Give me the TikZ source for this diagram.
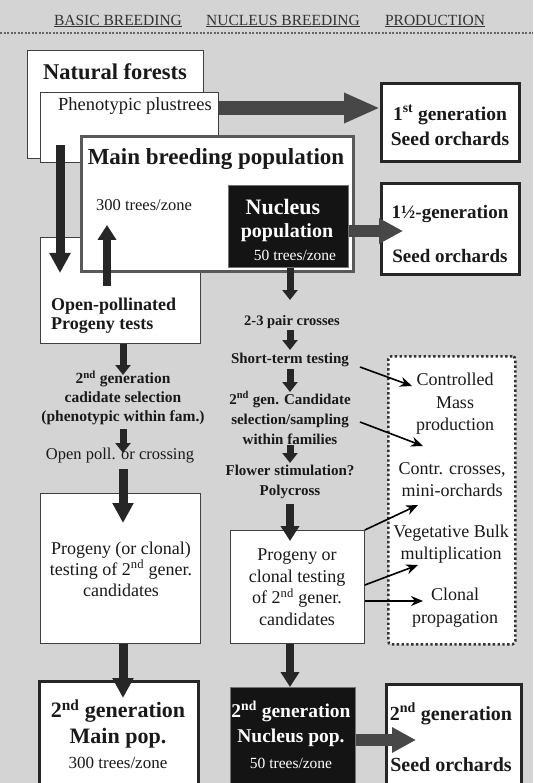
\documentclass[tikz,border=0pt]{standalone}
\usepackage{fontspec}
\setmainfont{Liberation Serif}
\usetikzlibrary{arrows.meta}
\newcommand\fz[2]{\fontsize{#1}{#2}\selectfont}
\tikzset{
  thinbox/.style={draw=black!75, line width=0.8pt, fill=white, inner sep=0pt, anchor=north west},
  thickbox/.style={draw=black!85, line width=3pt, fill=white, inner sep=0pt, anchor=north west},
  mainbox/.style={draw=black!65, line width=2.6pt, fill=white, inner sep=0pt, anchor=north west},
  blackbox/.style={draw=black!55, line width=1.2pt, fill=black!92, inner sep=0pt, anchor=north west},
  dotbox/.style={draw=black!80, line width=2.6pt, dash pattern=on 2.4pt off 2.4pt, fill=white, rounded corners=3pt, inner sep=0pt, anchor=north west},
  txt/.style={inner sep=0pt, align=center, text=black!90},
  wtxt/.style={inner sep=0pt, align=center, text=white},
  hdr/.style={inner sep=0pt, text=black!80, font=\fz{15.5}{17}},
  vbig/.style={draw=black!85, line width=9pt, -{Triangle[length=20pt,width=20pt]}},
  vbigs/.style={draw=black!85, line width=8pt, -{Triangle[length=15pt,width=18pt]}},
  vsmall/.style={draw=black!85, line width=7pt, -{Triangle[length=10pt,width=15pt]}},
  hbig/.style={draw=black!72, line width=14pt, -{Triangle[length=36pt,width=28pt]}},
  hmid/.style={draw=black!72, line width=12pt, -{Triangle[length=24pt,width=24pt]}},
  thin/.style={draw=black, line width=1.6pt, -{Stealth[length=12pt,width=10pt]}},
}
\begin{document}
\begin{tikzpicture}[x=1pt,y=-1pt]
\clip (0,0) rectangle (533,783);
\useasboundingbox (0,0) rectangle (533,783);
\fill[black!17] (0,0) rectangle (533,783);

% header
\node[hdr] (h1) at (118,21) {\underline{BASIC BREEDING}};
\node[hdr] (h2) at (283,21) {\underline{NUCLEUS BREEDING}};
\node[hdr] (h3) at (435,21) {\underline{PRODUCTION}};
\coordinate (dl) at (0,33);
\coordinate (dr) at (533,33);
\draw[black!60, line width=2.6pt, dash pattern=on 2pt off 1.5pt] (dl) -- (dr);

% boxes, back to front
\node[thinbox, minimum width=176pt, minimum height=108pt] (nf) at (27,50) {};
\node[thinbox, minimum width=178pt, minimum height=70pt] (ph) at (40,92) {};
\node[thinbox, minimum width=160pt, minimum height=106pt] (op) at (40,237) {};
\node[mainbox, minimum width=272pt, minimum height=135pt] (mb) at (80,135) {};
\node[blackbox, minimum width=120pt, minimum height=82pt] (nu) at (228,185) {};
\node[thickbox, minimum width=138pt, minimum height=78pt] (g1) at (380,82) {};
\node[thickbox, minimum width=138pt, minimum height=91pt] (g15) at (380,182) {};
\node[thinbox, minimum width=160pt, minimum height=150pt] (lp) at (40,493) {};
\node[thinbox, minimum width=134pt, minimum height=113pt] (pc) at (230,530) {};
\node[dotbox, minimum width=127pt, minimum height=288pt] (db) at (387,355) {};
\node[thickbox, minimum width=159pt, minimum height=120pt] (mp) at (38,680) {};
\node[blackbox, minimum width=125pt, minimum height=110pt] (nb) at (230,687) {};
\node[thickbox, minimum width=135pt, minimum height=115pt] (so) at (385,683) {};

% arrow end points
\coordinate (a1s) at (60,145);   \coordinate (a1e) at (60,273);
\coordinate (a2s) at (107,286);  \coordinate (a2e) at (107,225);
\coordinate (c1) at (290,300);
\coordinate (c2s) at (290,330);  \coordinate (c2e) at (290,350);
\coordinate (c3s) at (290,369);  \coordinate (c3e) at (290,392);
\coordinate (c4s) at (290,445);  \coordinate (c4e) at (290,463);
\coordinate (c5s) at (290,504);  \coordinate (c5e) at (290,541);
\coordinate (l2e) at (123,375);
\coordinate (l3s) at (123,429);  \coordinate (l3e) at (123,453);
\coordinate (l4s) at (123,469);  \coordinate (l4e) at (123,523);
\coordinate (g15in) at (403,231);
\coordinate (t1s) at (360,367);  \coordinate (t1e) at (412,386);
\coordinate (t2s) at (360,422);  \coordinate (t2e) at (423,446);
\coordinate (t3e) at (418,505);
\coordinate (t4e) at (418,565);
\coordinate (t5e) at (423,601);
\coordinate (nbso) at (416,740);

% thick arrows
\draw[vbig] (a1s) -- (a1e);
\draw[vbigs] (a2s) -- (a2e);
\draw[hbig] (ph.east |- 0,108) -- (g1.west |- 0,108);
\draw[hmid] (nu.east |- 0,231) -- (g15in);
\draw[vsmall] (nu.south -| 290,0) -- (c1);
\draw[vsmall] (c2s) -- (c2e);
\draw[vsmall] (c3s) -- (c3e);
\draw[vsmall] (c4s) -- (c4e);
\draw[vbigs] (c5s) -- (c5e);
\draw[vbigs] (pc.south -| 290,0) -- (nb.north -| 290,0);
\draw[vsmall] (op.south -| 123,0) -- (l2e);
\draw[vsmall] (l3s) -- (l3e);
\draw[vbig] (l4s) -- (l4e);
\draw[vbig] (lp.south -| 123,0) -- ([yshift=-18pt]mp.north -| 123,0);
\draw[hmid] (nb.east |- 0,740) -- (nbso);

% thin arrows
\draw[thin] (t1s) -- (t1e);
\draw[thin] (t2s) -- (t2e);
\draw[thin] (pc.north east) -- (t3e);
\draw[thin] ([yshift=-55pt]pc.north east) -- (t4e);
\draw[thin] ([yshift=-71pt]pc.north east) -- (t5e);

% texts
\node[txt, font=\bfseries\fz{22.5}{26}] (nft) at (115,72) {Natural forests};
\node[txt, font=\fz{18.5}{20}] (pht) at (135,106) {Phenotypic plustrees};
\node[txt, font=\bfseries\fz{23}{26}] (mbt) at (216,159) {Main breeding population};
\node[txt, font=\fz{16.5}{18}, anchor=west] (mbn) at (96,205) {300 trees/zone};
\node[wtxt, font=\bfseries\fz{22}{24}] (nut1) at (283,207) {Nucleus};
\node[wtxt, font=\bfseries\fz{20}{22}] (nut2) at (287,233) {population};
\node[wtxt, font=\fz{15.5}{17}] (nut3) at (295,255) {50 trees/zone};
\node[txt, font=\bfseries\fz{18}{19}, align=left, anchor=west] (opt) at (51,316) {Open-pollinated\\Progeny tests};
\node[txt, font=\bfseries\fz{19.5}{25}] (g1t) at (450,125) {1\textsuperscript{st} generation\\Seed orchards};
\node[txt, font=\bfseries\fz{19}{44}] (g15t) at (450,234) {1½-generation\\Seed orchards};

\node[txt, font=\bfseries\fz{14.5}{17}] (cr) at (292,322) {2-3 pair crosses};
\node[txt, font=\bfseries\fz{15}{17}] (st) at (290,360) {Short-term testing};
\node[txt, font=\bfseries\fz{15}{20}] (cs) at (290,418) {2\textsuperscript{nd} gen. Candidate\\selection/sampling\\within families};
\node[txt, font=\bfseries\fz{15}{20}] (fs) at (290,482) {Flower stimulation?\\Polycross};

\node[txt, font=\bfseries\fz{15.5}{19}] (c2t) at (123,398) {2\textsuperscript{nd} generation\\cadidate selection\\(phenotypic within fam.)};
\node[txt, font=\fz{16.5}{18}] (opc) at (120,456) {Open poll. or crossing};
\node[txt, font=\fz{18}{21}] (lpt) at (121,569) {Progeny (or clonal)\\testing of 2\textsuperscript{nd} gener.\\candidates};
\node[txt, font=\fz{18}{21.5}] (pct) at (297,587) {Progeny or\\clonal testing\\of 2\textsuperscript{nd} gener.\\candidates};

\node[txt, font=\fz{18}{22.5}] (dt1) at (455,404) {Controlled\\Mass\\production};
\node[txt, font=\fz{18}{22}] (dt2) at (452,480) {Contr. crosses,\\mini-orchards};
\node[txt, font=\fz{18}{22}] (dt3) at (451,544) {Vegetative Bulk\\multiplication};
\node[txt, font=\fz{18}{23}] (dt4) at (455,608) {Clonal\\propagation};

\node[txt, font=\bfseries\fz{22}{26}] (mpt) at (118,724) {2\textsuperscript{nd} generation\\Main pop.};
\node[txt, font=\fz{17}{18}] (mpn) at (118,763) {300 trees/zone};
\node[wtxt, font=\bfseries\fz{19.5}{25}] (nbt) at (291,724) {2\textsuperscript{nd} generation\\Nucleus pop.};
\node[wtxt, font=\fz{15.5}{17}] (nbn) at (291,763) {50 trees/zone};
\node[txt, font=\bfseries\fz{20}{51}] (sot) at (451,737) {2\textsuperscript{nd} generation\\Seed orchards};
\end{tikzpicture}
\end{document}
